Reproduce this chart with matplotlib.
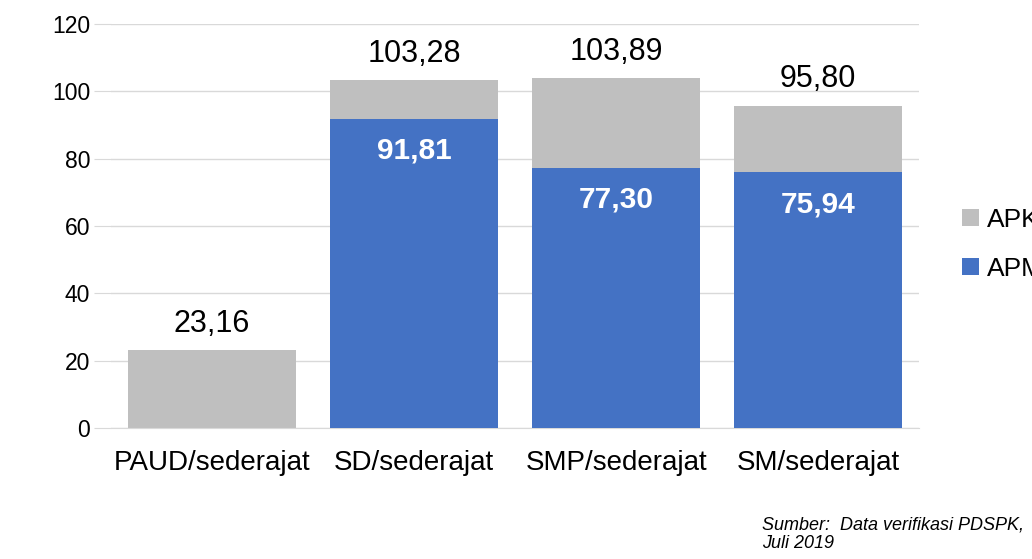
import numpy as np
import matplotlib
matplotlib.use('Agg')
import matplotlib.pyplot as plt

plt.rcParams['font.family'] = ['Liberation Sans', 'DejaVu Sans']

categories = ['PAUD/sederajat', 'SD/sederajat', 'SMP/sederajat', 'SM/sederajat']
apk = [23.16, 103.28, 103.89, 95.80]
apm = [np.nan, 91.81, 77.30, 75.94]
yticks = [0, 20, 40, 60, 80, 100, 120]

GRAY = '#BFBFBF'
BLUE = '#4472C4'

fig = plt.figure(figsize=(10.32, 5.59), dpi=100)
ax = fig.add_axes([0.1076, 0.2343, 0.783, 0.7227])

x = np.arange(len(categories))
w = 0.83
ax.bar(x, apk, width=w, color=GRAY, label='APK', zorder=2)
ax.bar(x, apm, width=w, color=BLUE, label='APM', zorder=3)

def fmt(v):
    return f'{v:.2f}'.replace('.', ',')

for xi, v in zip(x, apk):
    ax.annotate(fmt(v), (xi, v), xytext=(0, 19), textcoords='offset points',
                ha='center', va='center', fontsize=22, color='black')
for xi, v in zip(x, apm):
    if np.isnan(v):
        continue
    ax.annotate(fmt(v), (xi, v), xytext=(0, -23), textcoords='offset points',
                ha='center', va='center', fontsize=21.5, color='white', fontweight='bold')

ax.set_xlim(-0.5, 3.5)
ax.set_ylim(0, 120)
ax.set_yticks(yticks)
ax.set_xticks(x)
ax.set_xticklabels(categories, fontsize=20)
ax.tick_params(axis='y', labelsize=16.5, length=12, color='#D9D9D9', pad=3)
ax.tick_params(axis='x', length=0, pad=16)
ax.yaxis.grid(True, color='#D9D9D9', linewidth=1, zorder=0)
ax.set_axisbelow(True)
for s in ['top', 'right', 'left']:
    ax.spines[s].set_visible(False)
ax.spines['bottom'].set_color('#D9D9D9')

# legend, partly cut at the right edge like the original
handles, labels = ax.get_legend_handles_labels()
fig.legend(handles, labels, loc='upper left', bbox_to_anchor=(0.909, 0.671),
           frameon=False, fontsize=19, handlelength=0.65, handleheight=0.65,
           handletextpad=0.3, labelspacing=0.95)

fig.text(0.738, 0.012, 'Sumber:  Data verifikasi PDSPK,\nJuli 2019', fontsize=13,
         style='italic', ha='left', va='bottom', linespacing=1.15)

fig.savefig('out.png', dpi=100)
